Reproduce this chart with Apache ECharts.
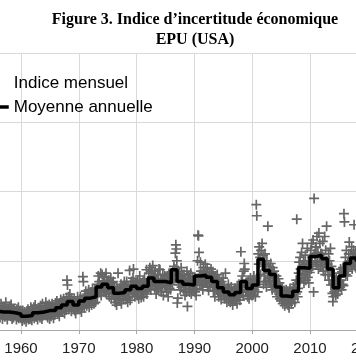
<!DOCTYPE html>
<html><head><meta charset="utf-8">
<script src="https://cdn.jsdelivr.net/npm/echarts@6/dist/echarts.min.js"></script>
<style>html,body{margin:0;padding:0;background:#fff}#c{width:356px;height:364px}</style>
</head><body><div id="c"></div>
<script>
const years = [1955,1956,1957,1958,1959,1960,1961,1962,1963,1964,1965,1966,1967,1968,1969,1970,1971,1972,1973,1974,1975,1976,1977,1978,1979,1980,1981,1982,1983,1984,1985,1986,1987,1988,1989,1990,1991,1992,1993,1994,1995,1996,1997,1998,1999,2000,2001,2002,2003,2004,2005,2006,2007,2008,2009,2010,2011,2012,2013,2014,2015,2016,2017,2018];
const annualMean = [27,26,26,25,23,20,21,25,26,28,28,32,36,41,36,42,46,48,62,66,61,53,54,58,63,60,63,75,70,70,68,87,70,66,65,78,79,76,70,61,55,51,54,70,60,65,102,86,80,62,49,48,56,90,89,106,108,103,88,61,78,96,104,100];
const monthly = [
 [22,30,25,35,20,28,33,24,19,31,26,29],
 [30,21,35,24,18,27,38,23,29,16,32,22],
 [24,33,19,28,40,22,26,15,31,27,21,30],
 [34,28,20,37,23,16,29,25,18,30,22,26],
 [21,27,15,30,24,19,33,17,25,22,28,18],
 [17,24,13,28,19,22,15,26,18,21,12,25],
 [25,18,30,15,22,27,16,20,33,19,14,23],
 [28,21,33,17,26,36,23,19,30,24,15,28],
 [22,31,27,18,35,24,29,16,38,25,21,26],
 [33,24,29,40,21,27,35,18,30,26,37,16],
 [25,34,20,30,38,23,28,17,33,27,22,39],
 [36,27,42,30,24,38,33,20,35,29,44,26],
 [30,41,27,38,45,33,24,40,35,29,47,72],
 [65,36,48,30,44,52,35,40,27,46,38,33],
 [40,31,45,28,37,24,42,35,30,48,33,39],
 [35,44,30,48,38,26,41,33,77,70,40,32],
 [50,38,56,43,35,52,47,40,58,33,48,45],
 [44,55,36,50,60,42,47,38,53,58,40,49],
 [52,60,48,66,78,57,70,55,64,82,50,63],
 [80,62,71,55,68,77,58,64,82,52,70,61],
 [66,54,72,48,63,58,75,45,61,68,52,70],
 [58,45,63,40,55,49,36,60,52,82,44,50],
 [60,43,52,66,38,57,48,62,45,55,70,50],
 [52,64,45,70,57,40,61,54,48,86,43,66],
 [58,70,52,65,75,88,55,62,48,68,60,57],
 [66,50,72,58,45,63,78,54,60,47,68,56],
 [57,70,48,65,74,55,61,68,87,52,63,59],
 [68,82,63,90,72,58,85,77,66,93,70,79],
 [76,60,85,68,52,74,63,80,58,71,88,65],
 [87,62,74,55,70,66,80,50,72,64,78,68],
 [63,72,55,78,66,48,70,82,60,74,58,69],
 [72,80,66,85,74,92,78,88,111,123,117,100],
 [39,46,78,65,84,70,58,75,90,62,80,68],
 [72,58,80,63,50,75,67,55,85,34,70,78],
 [60,74,55,68,82,52,70,63,77,58,66,72],
 [70,55,68,50,60,74,100,137,136,112,80,66],
 [98,85,72,64,80,58,90,75,68,82,95,70],
 [80,68,90,62,74,57,83,71,65,78,88,82],
 [75,62,84,56,70,66,48,78,64,72,58,80],
 [55,68,48,72,60,52,65,44,70,58,63,75],
 [50,62,45,58,82,48,55,40,60,52,66,44],
 [46,58,40,54,62,44,50,36,55,48,60,42],
 [50,60,44,57,38,62,52,47,66,55,43,58],
 [113,70,55,78,62,50,85,96,88,64,56,68],
 [55,68,48,72,58,45,63,52,75,57,66,50],
 [60,72,52,78,58,66,48,70,181,165,62,55],
 [110,95,120,70,105,80,115,98,125,92,108,66],
 [95,78,110,70,88,62,100,82,150,75,92,68],
 [88,72,96,65,82,58,90,76,70,85,62,78],
 [70,55,78,48,66,60,74,52,68,45,62,57],
 [55,42,60,38,50,46,57,35,52,44,58,40],
 [44,56,36,52,32,48,60,41,54,38,50,45],
 [50,62,45,58,40,66,52,72,160,55,48,60],
 [82,98,70,105,88,75,112,92,125,80,100,68],
 [95,80,108,72,90,85,118,76,100,68,92,83],
 [98,115,88,125,105,92,130,55,190,110,100,120],
 [120,95,135,100,112,88,140,105,125,92,110,98],
 [110,92,128,85,105,98,135,80,115,100,150,90],
 [95,80,110,72,100,86,118,65,92,78,53,41],
 [48,66,55,72,58,50,75,62,68,52,60,70],
 [70,82,62,88,72,58,84,66,90,64,168,156],
 [88,105,80,115,92,78,98,85,110,127,100,95],
 [110,95,120,88,105,98,115,152,100,92,112,90],
 [95,108,90,115,100,92,105,88,110,98,120,96]
];
const xTickLabels = [1950,1960,1970,1980,1990,2000,2010,2020];

const monthlyPoints = [];
years.forEach((y, i) => monthly[i].forEach((v, m) => monthlyPoints.push([y + (m + 0.5) / 12, v])));
const annualPoints = years.map((y, i) => [y, annualMean[i]]);
annualPoints.push([years[years.length - 1] + 1, annualMean[annualMean.length - 1]]);

const plusPath = 'path://M4.15,0H5.85V4.15H10V5.85H5.85V10H4.15V5.85H0V4.15H4.15Z';

const chart = echarts.init(document.getElementById('c'), null, {renderer: 'canvas'});
chart.setOption({
  animation: false,
  backgroundColor: '#ffffff',
  title: {
    text: 'Figure 3. Indice d\u2019incertitude \u00e9conomique\nEPU (USA)',
    left: 195, top: 10, textAlign: 'center', padding: 0,
    textStyle: {fontFamily: 'Liberation Serif', fontWeight: 'bold', fontSize: 16, lineHeight: 20, color: '#000'}
  },
  legend: {
    orient: 'vertical', left: -23, top: 74.5, padding: 0,
    itemWidth: 30, itemHeight: 10, itemGap: 7,
    lineStyle: {width: 'inherit'},
    textStyle: {fontFamily: 'Liberation Sans', fontSize: 17, lineHeight: 17, color: '#000'},
    data: [{name: 'Indice mensuel', icon: 'none'}, {name: 'Moyenne annuelle'}]
  },
  grid: {left: -36.8, right: -11.8, top: 53, bottom: 34, containLabel: false, outerBoundsMode: 'none'},
  xAxis: {
    type: 'value', min: xTickLabels[0], max: xTickLabels[xTickLabels.length - 1], interval: 10,
    axisLine: {lineStyle: {color: '#a8a8a8', width: 1}},
    axisTick: {show: true, length: 4, lineStyle: {color: '#a8a8a8'}},
    axisLabel: {fontFamily: 'Liberation Sans', fontSize: 15, color: '#222', margin: 11, formatter: v => String(v)},
    splitLine: {show: true, lineStyle: {color: '#d9d9d9', width: 1}}
  },
  yAxis: {
    type: 'value', min: 0, max: 400, interval: 100,
    axisLine: {show: false}, axisTick: {show: false}, axisLabel: {show: false},
    splitLine: {show: true, lineStyle: {color: '#d9d9d9', width: 1}}
  },
  series: [
    {
      name: 'Indice mensuel', type: 'scatter', data: monthlyPoints,
      symbol: plusPath, symbolSize: 10, z: 2,
      itemStyle: {color: '#666666', opacity: 1}
    },
    {
      name: 'Moyenne annuelle', type: 'line', data: annualPoints, step: 'end',
      showSymbol: false, symbol: 'none', z: 3,
      lineStyle: {color: '#000', width: 3.5}, itemStyle: {color: '#000'}
    }
  ]
});
</script></body></html>
